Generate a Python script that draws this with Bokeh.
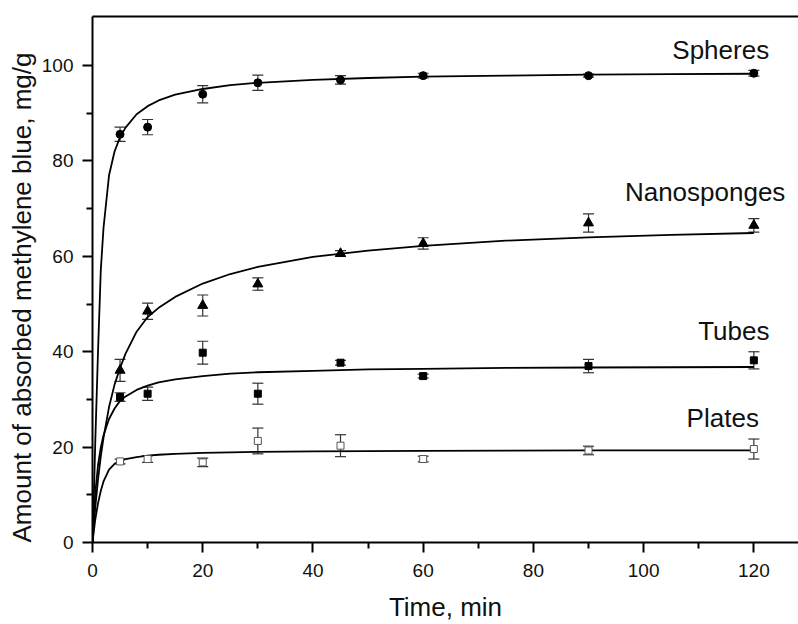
from bokeh.plotting import figure
from bokeh.models import (Range1d, LinearAxis, FixedTicker, ColumnDataSource,
                          Whisker, TeeHead, Label, Title)
from bokeh.embed import file_html
from bokeh.resources import INLINE

time_pts = [5, 10, 20, 30, 45, 60, 90, 120]
spheres = [85.6, 87.1, 94.0, 96.4, 97.0, 97.9, 97.9, 98.4]
spheres_err = [1.5, 1.6, 1.8, 1.6, 0.9, 0.5, 0.3, 0.6]
nanosponges = [36.1, 48.5, 49.7, 54.2, 60.6, 62.7, 67.0, 66.5]
nanosponges_err = [2.3, 1.7, 2.2, 1.3, 0.6, 1.2, 1.9, 1.4]
tubes = [30.5, 31.2, 39.8, 31.2, 37.7, 34.9, 37.0, 38.2]
tubes_err = [0.9, 1.4, 2.4, 2.2, 0.5, 0.4, 1.4, 1.8]
plates = [17.0, 17.5, 16.8, 21.3, 20.3, 17.5, 19.3, 19.6]
plates_err = [0.5, 0.7, 0.9, 2.7, 2.3, 0.6, 0.9, 2.1]

# ---- fitted curves ----
fit_time = [0, 0.25, 0.5, 1, 1.5, 2, 3, 4, 5, 6, 8, 10, 12, 15, 20, 25, 30,
            40, 50, 60, 75, 90, 105, 120]
spheres_fit = [0, 10, 21, 40, 57, 66, 77, 82, 85, 87, 89.8, 91.5, 92.7, 93.9,
               95.1, 95.9, 96.4, 97.0, 97.4, 97.7, 97.9, 98.1, 98.2, 98.3]
nanosponges_fit = [0, 3.9, 7.3, 13.2, 18.0, 22.0, 28.4, 33.1, 36.6, 39.6, 44.2,
                   47.3, 49.2, 51.5, 54.3, 56.3, 57.8, 59.9, 61.2, 62.2, 63.3,
                   64.0, 64.5, 64.9]
tubes_fit = [0, 6.0, 10.3, 16.2, 19.9, 22.5, 25.9, 28.1, 29.7, 30.6, 32.0, 32.9,
             33.6, 34.2, 34.9, 35.4, 35.7, 36.0, 36.3, 36.4, 36.6, 36.7, 36.75,
             36.8]
plates_fit = [0, 2.5, 4.8, 8.2, 10.8, 12.8, 15.3, 16.5, 17.1, 17.5, 17.9, 18.2,
              18.4, 18.6, 18.8, 18.9, 19.0, 19.1, 19.15, 19.2, 19.25, 19.3,
              19.3, 19.3]

x_ticks = [0, 20, 40, 60, 80, 100, 120]
x_minor = [10, 30, 50, 70, 90, 110]
y_ticks = [0, 20, 40, 60, 80, 100]
y_minor = [10, 30, 50, 70, 90]

x_title = "Time, min"
y_title = "Amount of absorbed methylene blue, mg/g"

FONT = "Liberation Sans"

p = figure(width=798, height=624, output_backend="svg", toolbar_location=None,
           x_range=Range1d(0, 128.1), y_range=Range1d(0, 110.3),
           min_border_left=92, min_border_right=0, min_border_top=16,
           min_border_bottom=10)
p.grid.visible = False
p.outline_line_color = None
p.background_fill_color = "white"
p.border_fill_color = "white"

p.xaxis.ticker = FixedTicker(ticks=x_ticks, minor_ticks=x_minor)
p.yaxis.ticker = FixedTicker(ticks=y_ticks, minor_ticks=y_minor)
p.xaxis.axis_label = x_title
for ax in (p.xaxis, p.yaxis):
    ax.axis_line_width = 2
    ax.axis_line_color = "black"
    ax.major_tick_line_width = 2
    ax.minor_tick_line_width = 2
    ax.major_tick_line_color = "black"
    ax.minor_tick_line_color = "black"
    ax.major_tick_in = 0
    ax.major_tick_out = 10
    ax.minor_tick_in = 0
    ax.minor_tick_out = 6
    ax.major_label_text_font = FONT
    ax.major_label_text_font_size = "19px"
    ax.major_label_text_color = "#111111"
    ax.axis_label_text_font = FONT
    ax.axis_label_text_font_size = "26px"
    ax.axis_label_text_font_style = "normal"
    ax.axis_label_text_color = "#111111"
p.yaxis.major_label_standoff = 9
p.xaxis.major_label_standoff = 11
p.xaxis.axis_label_standoff = 12

# y-axis title as a left-side title, anchored at the bottom as in the reference
p.add_layout(Title(text=y_title, align="left", offset=0, standoff=3,
                   text_font=FONT, text_font_size="26px",
                   text_font_style="normal", text_color="#111111"), "left")

top = LinearAxis(axis_line_width=2, axis_line_color="black",
                 major_tick_out=0, major_tick_in=0, minor_tick_out=0,
                 minor_tick_in=0, major_label_text_font_size="0px",
                 major_label_standoff=0)
top.ticker = FixedTicker(ticks=[])
p.add_layout(top, "above")

series = [
    (spheres, spheres_err, spheres_fit, "circle", 8, "black", "black"),
    (nanosponges, nanosponges_err, nanosponges_fit, "triangle", 10, "black", "black"),
    (tubes, tubes_err, tubes_fit, "square", 7, "black", "black"),
    (plates, plates_err, plates_fit, "square", 7, "white", "#555555"),
]

for vals, errs, fit, marker, size, fill, line in series:
    src = ColumnDataSource(dict(
        t=time_pts, v=vals,
        upper=[v + e for v, e in zip(vals, errs)],
        lower=[v - e for v, e in zip(vals, errs)]))
    w = Whisker(source=src, base="t", upper="upper", lower="lower",
                line_color="#333333", line_width=1.2,
                upper_head=TeeHead(size=11, line_color="#333333", line_width=1.2),
                lower_head=TeeHead(size=11, line_color="#333333", line_width=1.2))
    p.add_layout(w)
    p.line(fit_time, fit, line_color="black", line_width=1.8)
    p.scatter("t", "v", source=src, marker=marker, size=size,
              fill_color=fill, line_color=line, line_width=1)

labels = [("Spheres", 105.2, 103.2), ("Nanosponges", 96.6, 73.5),
          ("Tubes", 109.9, 44.3), ("Plates", 107.8, 26.1)]
for txt, lx, ly in labels:
    p.add_layout(Label(x=lx, y=ly, text=txt, text_font=FONT,
                       text_font_size="26px", text_color="#111111",
                       text_align="left", text_baseline="alphabetic"))

open("out.html", "w").write(file_html(p, INLINE))
